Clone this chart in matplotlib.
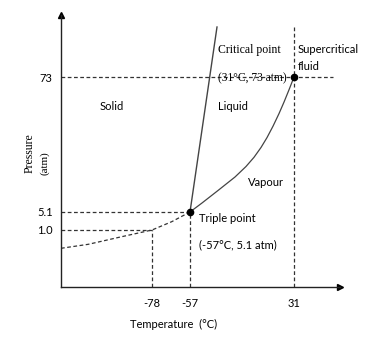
import matplotlib
matplotlib.use('Agg')
import matplotlib.pyplot as plt

sans = 'Lato'
serif = 'Liberation Serif'

## Tick values and their place on the (not to scale) diagram
t_labels = ['-78', '-57', '31']
t_pos = [91, 129, 233]
p_labels = ['1.0', '5.1', '73']
p_pos = [57, 75, 210]

## Phase boundaries in diagram units
triple = (129, 75)
critical = (233, 210)
melt_x = [129, 156]
melt_y = [75, 260]
boil_x = [129, 141, 157, 174, 185, 193, 200, 206, 212, 218, 223, 228, 233]
boil_y = [75, 84, 96.5, 110, 120.5, 129.7, 139.5, 149.4, 160.8, 173.4,
	184.9, 197.2, 210]
subl_x = [0, 27.3, 60.7, 91, 110.7, 129]
subl_y = [38.7, 42.7, 50.3, 57, 65.3, 75]

fig = plt.figure(figsize=(3.81, 3.40), dpi=100)
ax = fig.add_axes([61/381, 53/340, 279/381, 272/340])
ax.set_xlim(0, 279)
ax.set_ylim(0, 272)
for s in ['top', 'right']:
	ax.spines[s].set_visible(False)
for s in ['left', 'bottom']:
	ax.spines[s].set_linewidth(1.0)
	ax.spines[s].set_color('#222222')
ax.plot(1, 0, '>', color='k', ms=5, transform=ax.transAxes, clip_on=False)
ax.plot(0, 1, '^', color='k', ms=5, transform=ax.transAxes, clip_on=False)

ax.set_xticks(t_pos, t_labels, fontfamily=sans, fontsize=8)
ax.set_yticks(p_pos, p_labels, fontfamily=sans, fontsize=8)
ax.tick_params(axis='x', length=0, pad=8)
ax.tick_params(axis='y', length=0, pad=6)

dash = dict(color='#333333', lw=0.9, ls=(0, (3, 2)))
# guide lines
ax.plot([0, 272], [p_pos[2], p_pos[2]], **dash)
ax.plot([0, triple[0]], [p_pos[1], p_pos[1]], **dash)
ax.plot([0, t_pos[0]], [p_pos[0], p_pos[0]], **dash)
ax.plot([t_pos[0], t_pos[0]], [0, p_pos[0]], **dash)
ax.plot([t_pos[1], t_pos[1]], [0, triple[1]], **dash)
ax.plot([t_pos[2], t_pos[2]], [0, 260], **dash)
ax.plot(subl_x, subl_y, **dash)

ax.plot(melt_x, melt_y, color='#444444', lw=1.0)
ax.plot(boil_x, boil_y, color='#444444', lw=0.9, solid_joinstyle='round')
ax.plot(*triple, 'o', color='k', ms=4.5)
ax.plot(*critical, 'o', color='k', ms=4.5)

ax.text(157, 237, 'Critical point', fontfamily=serif, fontsize=8.5, va='center')
ax.text(157, 209, '(31°C, 73 atm)', fontfamily=serif, fontsize=8.3, va='center')
ax.text(237, 229, 'Supercritical\nfluid', fontfamily=sans, fontsize=8,
	va='center', linespacing=1.6)
ax.text(157, 181, 'Liquid', fontfamily=sans, fontsize=8, va='center')
ax.text(39, 180, 'Solid', fontfamily=sans, fontsize=8, va='center')
ax.text(187, 105, 'Vapour', fontfamily=sans, fontsize=8, va='center')
ax.text(138, 69, 'Triple point', fontfamily=sans, fontsize=8, va='center')
ax.text(138, 42, '(-57°C, 5.1 atm)', fontfamily=sans, fontsize=8, va='center')

fig.text(174/381, 1 - 324/340, 'Temperature  (°C)', fontfamily=sans,
	fontsize=8, ha='center', va='center')
fig.text(30/381, 1 - 153/340, 'Pressure', fontfamily=serif, fontsize=8.5,
	rotation=90, ha='center', va='center')
fig.text(45/381, 1 - 163/340, '(atm)', fontfamily=serif, fontsize=8,
	rotation=90, ha='center', va='center')

fig.savefig('out.png', dpi=100)
